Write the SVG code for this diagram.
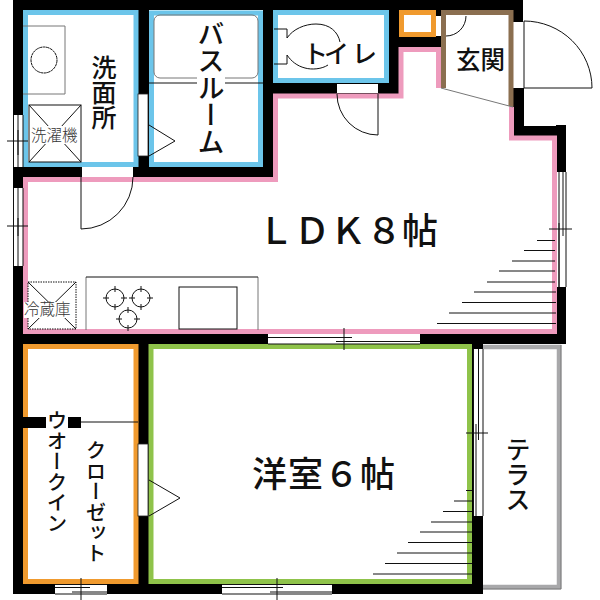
<svg xmlns="http://www.w3.org/2000/svg" width="600" height="600" viewBox="0 0 600 600">
<defs><style>
.k{fill:#000}
.w{fill:#fff}
.ln{fill:none;stroke:#111;stroke-width:1}
.g{fill:none;stroke:#777;stroke-width:1}
.t{font-family:"Noto Sans CJK JP","Noto Sans",sans-serif;fill:#111;font-weight:500}
.s{font-family:"Noto Sans CJK JP","Noto Sans",sans-serif;fill:#333;font-weight:300}
.v{writing-mode:vertical-rl;text-anchor:start}
</style></defs>
<rect width="600" height="600" fill="#fff"/>
<g id="walls">
<rect class="k" x="13" y="0" width="510" height="10"/>
<rect class="k" x="513" y="0" width="10" height="22"/>
<rect class="k" x="13" y="0" width="10" height="594"/>
<rect class="k" x="138" y="10" width="11" height="167"/>
<rect class="k" x="263" y="10" width="10" height="167"/>
<rect class="k" x="389" y="10" width="10" height="84"/>
<rect class="k" x="431" y="10" width="15" height="37"/>
<rect class="k" x="399" y="37" width="47" height="10"/>
<rect class="k" x="263" y="83" width="136" height="11"/>
<rect class="k" x="13" y="167" width="264" height="11"/>
<rect class="k" x="513" y="88" width="11" height="48"/>
<rect class="k" x="513" y="126" width="53" height="10"/>
<rect class="k" x="556" y="125" width="10" height="219"/>
<rect class="k" x="13" y="334" width="553" height="10"/>
<rect class="k" x="138" y="344" width="11" height="250"/>
<rect class="k" x="472" y="344" width="11" height="250"/>
<rect class="k" x="13" y="584" width="470" height="10"/>
</g>
<g id="room-wash"><rect x="25.500" y="12.500" width="110.500" height="152" fill="#fff" stroke="#6cc5ea" stroke-width="5"/></g>
<g id="room-bath"><rect x="151.500" y="13" width="109" height="151.500" fill="#fff" stroke="#6cc5ea" stroke-width="5"/></g>
<g id="room-toilet"><rect x="275.500" y="12.500" width="111" height="68" fill="#fff" stroke="#6cc5ea" stroke-width="5"/></g>
<g id="room-storage"><rect x="401.500" y="12.500" width="32" height="22" fill="#fff" stroke="#f09a2e" stroke-width="5"/></g>
<g id="room-genkan"><path d="M443.500 88V12.500H511V107" fill="#fff" stroke="#8b6f50" stroke-width="5"/></g>
<g id="room-ldk"><path d="M438.500 88V49.500H401V96H275.500V179.500H25.500V331.500H554.500V138H511.500V107" fill="#fff" stroke="#ee9bbd" stroke-width="5"/></g>
<g id="room-closet"><rect x="25.500" y="346.500" width="110.500" height="235" fill="#fff" stroke="#f09a2e" stroke-width="5"/></g>
<g id="room-western"><rect x="151" y="346.500" width="318.500" height="235" fill="#fff" stroke="#8fc34a" stroke-width="5"/></g>
<g id="room-terrace"><path d="M483 347H559V587H483" fill="#fff" stroke="#a8a8aa" stroke-width="4.500"/><path d="M561 345V589H483" fill="none" stroke="#777" stroke-width="1"/></g>
<g id="openings">
<rect class="w" x="138" y="94" width="10" height="62" stroke="#222" stroke-width="0.800"/>
<rect class="w" x="138" y="444" width="10" height="72" stroke="#222" stroke-width="0.800"/>
<rect class="w" x="82" y="167" width="51" height="10"/>
<rect class="w" x="337" y="84" width="41" height="9"/>
<rect class="w" x="436" y="16" width="5" height="20"/>
<rect class="w" x="514" y="22" width="10" height="66"/>
<rect class="w" x="14" y="115" width="9" height="52"/>
<rect class="w" x="14" y="188" width="9" height="78"/>
<rect class="w" x="557" y="172" width="9" height="115"/>
<rect class="w" x="268" y="334" width="152" height="10"/>
<rect class="w" x="473" y="349" width="10" height="167"/>
<rect class="w" x="55" y="584" width="52" height="10"/>
<rect class="w" x="222" y="584" width="110" height="10"/>
</g>
<g id="connectors">
<path class="ln" d="M13.500 115V167M18 115V167M23 115V167M13.500 188V266M18 188V266M23 188V266M7 141H28M18 130V155M7 226H28M18 218V236"/>
<path class="ln" d="M559 172V287M563 172V236M566 172V287M549 229H572M559 223V287"/>
<path class="ln" d="M268 337.500H352M336 341.500H420M268 344H420M344 328V350"/>
<path class="ln" d="M473.500 349V516M476 424V516M478.500 349V440M483 349V516M466 433H488"/>
<path class="ln" d="M55 584.500H107M55 594H107M55 587.500H90M72 592H107M81 578V600M222 584.500H332M222 594H332M222 587.500H283M270 592H332M277 578V600"/>
<path class="ln" d="M81 167V229A52 52 0 0 0 133 177M378 94V135A41 41 0 0 1 337 94M446 36A20 20 0 0 0 466 16M524 21V88H592A68 67 0 0 0 524 21"/>
<path class="ln" d="M149 125L175 141L149 156M149 480L180 498L149 516"/>
<path class="g" d="M441 88L513 107"/>
<path class="ln" d="M149 83H263M81 422H138"/>
<path class="ln" d="M537 240.500H555M524 250.500H555M512 261H555M499 271H555M487 282H555M474 292H556M462 302.500H556M449 313H556M437 323.500H556"/>
<path class="ln" d="M466 490.500H472M454 501H472M443 511.500H472M431 522H472M420 532H472M408 542.500H472M397 553H472M385 563.500H472M373 574H472"/>
</g>
<g id="fixtures">
<path class="g" d="M23 26H65V94H23"/>
<circle class="ln" cx="44" cy="60" r="13" stroke-dasharray="3 0.500"/>
<rect class="ln" x="29" y="105" width="52" height="57"/>
<path class="ln" d="M29 105L81 162M81 105L29 162"/>
<rect class="g" x="154" y="15" width="104" height="63" rx="6"/>
<path class="ln" d="M274 29H287V38M274 64H287V55"/>
<path class="ln" d="M287 38C293 29 305 24 316 24C330 24 338 32 340 42M328 65C322 69 312 70 305 68C297 66 291 61 287 55"/>
<path class="g" d="M86 277V330M258 277V330"/>
<path class="ln" d="M86 277H258"/>
<rect class="ln" x="179" y="287" width="58" height="42"/>
<rect class="ln" x="28" y="282" width="48" height="47" stroke-dasharray="1.500 1"/>
<path class="ln" d="M28 282L76 329M76 282L28 329"/>
<g id="burners">
<circle class="ln" cx="115" cy="298" r="9"/><path class="ln" d="M103 298H109M121 298H127M115 286V292M115 304V310"/>
<circle class="ln" cx="141" cy="298" r="9"/><path class="ln" d="M129 298H135M147 298H153M141 286V292M141 304V310"/>
<circle class="ln" cx="128" cy="319" r="9"/><path class="ln" d="M116 319H122M134 319H140M128 307V313M128 325V331"/>
</g>
<rect class="k" x="20" y="417" width="26" height="11"/>
<rect class="k" x="68" y="417" width="13" height="11"/>
</g>
<g id="labels">
<rect class="w" x="197" y="76" width="28" height="14"/>
<rect class="w" x="32" y="126" width="46" height="18"/>
<rect class="w" x="24" y="302" width="46" height="16"/>
<text class="t v" x="104" y="55" font-size="25">洗面所</text>
<text class="t v" x="211" y="20" font-size="27">バスルーム</text>
<text class="t" x="303 324 352" y="63" font-size="25">トイレ</text>
<text class="t" x="456" y="69" font-size="24.500">玄関</text>
<text class="t" x="258" y="244" font-size="36">ＬＤＫ８帖</text>
<text class="t" x="252" y="487" font-size="35" letter-spacing="1">洋室６帖</text>
<text class="t v" x="518" y="437" font-size="25">テラス</text>
<text class="t v" x="57" y="410" font-size="20.500">ウオークイン</text>
<text class="t v" x="96" y="440" font-size="20.500">クローゼット</text>
<text class="s" x="31" y="141" font-size="15.500">洗濯機</text>
<text class="s" x="24" y="315" font-size="15.500">冷蔵庫</text>
</g>
</svg>
